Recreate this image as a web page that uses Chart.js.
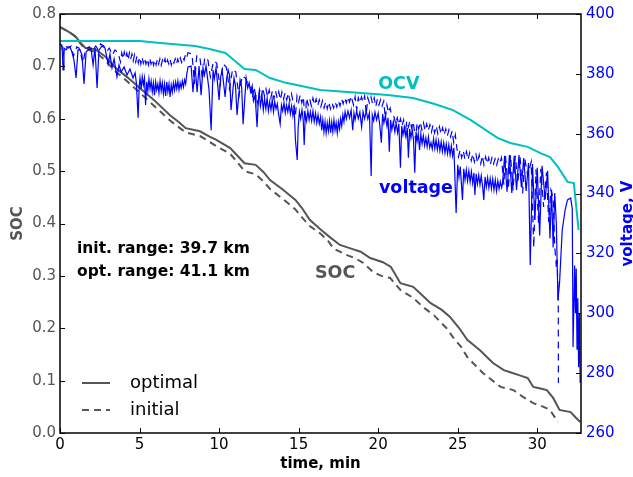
<!DOCTYPE html>
<html><head><meta charset="utf-8">
<script src="https://cdn.jsdelivr.net/npm/chart.js@4/dist/chart.umd.min.js"></script>
<style>html,body{margin:0;padding:0;background:#fff;}canvas{display:block;}</style>
</head><body>
<canvas id="c" width="633" height="477"></canvas>
<script>
// ---------- tick values ----------
const xTicks = [0, 5, 10, 15, 20, 25, 30];
const socTicks = [0, 0.1, 0.2, 0.3, 0.4, 0.5, 0.6, 0.7, 0.8];
const voltTicks = [260, 280, 300, 320, 340, 360, 380, 400];

// ---------- SOC (left axis) ----------
const socOptTime = [0, 0.3, 0.6, 0.95, 1.3, 1.6, 2.2, 2.8, 3.5, 4.2, 5.0, 5.9, 6.9, 7.5, 7.9, 8.8, 9.4, 9.8, 10.7, 11.2, 11.6, 12.3, 12.8, 13.2, 14.0, 14.8, 15.2, 15.7, 16.4, 17.0, 17.6, 18.3, 18.9, 19.5, 20.3, 20.8, 21.4, 22.2, 22.7, 23.3, 24.0, 24.5, 25.1, 25.6, 26.4, 27.2, 27.9, 28.3, 28.9, 29.4, 29.75, 30.2, 30.6, 31.0, 31.4, 32.1, 32.4, 32.7];
const socOpt = [0.775, 0.77, 0.765, 0.758, 0.745, 0.735, 0.733, 0.72, 0.697, 0.68, 0.659, 0.636, 0.607, 0.593, 0.582, 0.576, 0.566, 0.56, 0.544, 0.528, 0.515, 0.512, 0.498, 0.483, 0.465, 0.445, 0.43, 0.407, 0.388, 0.373, 0.359, 0.352, 0.346, 0.334, 0.326, 0.317, 0.286, 0.279, 0.265, 0.248, 0.235, 0.222, 0.2, 0.178, 0.158, 0.134, 0.12, 0.116, 0.11, 0.105, 0.088, 0.085, 0.082, 0.067, 0.044, 0.04, 0.03, 0.021];

const socInitTime = [0, 0.3, 0.6, 0.95, 1.3, 1.6, 2.2, 2.8, 3.5, 4.2, 5.0, 5.9, 6.9, 7.5, 7.9, 8.8, 9.4, 9.8, 10.7, 11.2, 11.6, 12.3, 12.8, 13.2, 14.0, 14.8, 15.2, 15.7, 16.4, 16.9, 17.2, 18.0, 18.6, 19.05, 19.7, 20.2, 20.75, 21.4, 22.2, 22.8, 23.5, 24.3, 24.7, 25.2, 25.6, 26.6, 27.7, 28.5, 29.1, 29.75, 30.4, 30.8, 31.3];
const socInit = [0.775, 0.77, 0.765, 0.757, 0.743, 0.733, 0.728, 0.713, 0.69, 0.672, 0.65, 0.625, 0.597, 0.583, 0.574, 0.567, 0.556, 0.548, 0.533, 0.515, 0.5, 0.494, 0.48, 0.466, 0.447, 0.427, 0.412, 0.395, 0.38, 0.365, 0.352, 0.34, 0.333, 0.325, 0.307, 0.3, 0.296, 0.273, 0.258, 0.241, 0.225, 0.2, 0.183, 0.165, 0.145, 0.114, 0.088, 0.082, 0.069, 0.057, 0.05, 0.044, 0.021];

// ---------- OCV (right axis) ----------
const ocvTime = [0, 5.0, 6.3, 8.5, 9.4, 10.4, 11.0, 11.6, 12.3, 13.2, 14.2, 15.1, 16.35, 18.5, 20.6, 22.2, 23.5, 24.7, 25.8, 27.5, 28.3, 29.4, 30.2, 30.8, 31.3, 31.9, 32.3, 32.6];
const ocv = [391.0, 391.0, 390.3, 389.3, 388.3, 387.0, 384.3, 381.6, 381.3, 378.6, 377.0, 376.0, 374.6, 373.8, 372.9, 371.9, 370.0, 367.9, 364.6, 358.6, 356.9, 355.6, 353.5, 352.2, 348.9, 343.9, 343.5, 327.8];

// ---------- terminal voltage, optimal (solid): [time min, volts] ----------
const voltOptPoints = [
[0.00,390.0],[0.13,389.3],[0.19,381.3],[0.25,388.6],[0.38,388.0],[0.50,389.0],[0.63,389.0],[0.75,387.3],[0.88,384.6],[1.01,378.6],[1.13,388.0],[1.26,388.0],[1.38,386.3],[1.51,376.6],[1.64,387.3],[1.76,388.0],[1.95,388.6],[2.08,383.0],[2.20,388.6],[2.33,375.3],[2.45,388.0],[2.64,389.3],[2.83,388.6],[3.02,383.3],[3.14,386.6],[3.27,382.0],[3.40,385.0],[3.58,379.0],[3.71,383.0],[3.84,380.6],[4.03,382.3],[4.21,379.6],[4.40,381.6],[4.59,378.6],[4.72,380.3],
[4.80,377.0],[4.91,365.3],[4.98,376.0],[5.03,378.6],[5.10,375.0],[5.17,379.0],[5.24,376.3],[5.31,378.6],[5.38,369.6],[5.45,377.3],[5.52,374.3],[5.59,378.3],[5.66,375.0],[5.73,377.6],[5.80,374.0],[5.87,377.0],[5.94,372.9],[6.01,377.3],[6.08,374.6],[6.15,376.6],[6.22,373.6],[6.29,377.6],[6.36,374.3],[6.43,377.0],[6.50,373.3],[6.57,376.6],[6.64,372.6],[6.71,377.3],[6.78,374.0],[6.85,376.6],[6.92,372.3],[6.99,376.3],[7.06,373.9],[7.13,377.0],[7.20,374.6],[7.27,377.3],[7.34,375.0],[7.41,377.6],[7.48,374.6],[7.55,377.0],[7.62,375.3],[7.69,377.6],[7.76,375.6],[7.83,378.0],[7.90,376.6],[7.97,380.0],[8.05,382.3],
[8.24,382.6],[8.36,373.9],[8.49,382.6],[8.62,373.9],[8.74,382.6],[8.87,372.9],[8.99,382.0],[9.08,379.6],[9.18,382.6],[9.37,374.6],[9.50,361.2],[9.62,381.3],[9.70,378.3],[9.81,382.0],[10.00,371.3],[10.10,379.0],[10.19,381.3],[10.38,372.3],[10.48,378.6],[10.57,381.3],[10.66,379.6],[10.75,367.9],[10.94,378.6],[11.03,376.0],[11.13,366.3],[11.32,378.0],[11.42,375.6],[11.51,363.2],[11.70,378.6],[11.80,375.3],[11.89,377.0],[11.98,374.0],
[12.08,376.0],[12.16,371.0],[12.26,372.9],[12.32,368.0],[12.39,362.2],[12.46,371.0],[12.52,373.9],[12.60,369.3],[12.70,372.6],[12.78,367.9],[12.86,371.6],[12.94,368.3],[13.02,371.9],[13.10,367.6],[13.18,370.6],[13.26,368.0],[13.34,371.3],[13.42,367.3],[13.50,370.6],[13.58,368.3],[13.66,370.0],[13.74,366.6],[13.84,363.3],[13.92,369.6],[14.00,367.6],[14.08,370.3],[14.16,366.9],[14.24,369.6],[14.32,367.3],[14.40,370.0],[14.48,366.6],[14.56,369.3],[14.64,366.0],[14.72,368.6],[14.80,357.9],[14.91,351.2],[14.97,362.0],[15.05,367.3],[15.13,365.0],[15.21,368.0],[15.29,364.6],[15.35,356.2],[15.42,366.6],[15.50,364.3],[15.58,367.6],[15.66,364.6],[15.74,367.3],[15.82,364.3],[15.90,367.6],[15.98,364.0],[16.06,366.9],[16.14,363.6],[16.22,366.3],[16.30,363.3],
[16.38,365.6],[16.45,361.2],[16.52,364.6],[16.59,360.6],[16.66,364.0],[16.73,360.2],[16.80,363.6],[16.87,360.9],[16.94,364.3],[17.01,360.3],[17.08,363.9],[17.15,360.6],[17.22,364.6],[17.29,361.2],[17.36,363.6],[17.43,360.2],[17.50,364.0],[17.57,361.6],[17.64,365.0],[17.71,362.6],[17.78,366.3],[17.85,364.0],[17.92,367.3],
[18.00,365.0],[18.10,367.6],[18.20,365.3],[18.30,367.9],[18.40,361.2],[18.48,366.9],[18.55,364.6],[18.65,367.6],[18.75,365.0],[18.85,367.2],[18.96,362.2],[19.05,367.3],[19.15,365.0],[19.25,367.6],[19.35,364.9],[19.45,367.0],[19.56,345.9],[19.63,366.3],[19.72,364.3],[19.80,367.2],[19.90,364.6],[20.00,366.9],[20.10,363.0],[20.20,357.0],[20.28,366.6],[20.36,363.6],[20.45,366.0],[20.55,362.6],[20.62,365.3],[20.70,354.0],[20.78,364.6],[20.86,361.3],[20.95,364.0],[21.05,360.6],[21.13,363.6],[21.22,360.3],[21.30,363.3],[21.40,348.6],[21.48,362.6],[21.56,359.6],[21.65,362.3],[21.75,359.0],[21.83,361.9],[21.90,352.0],[21.98,361.6],[22.06,358.6],[22.14,361.3],[22.22,358.0],[22.30,347.0],[22.38,360.6],[22.45,357.6],[22.52,360.0],[22.60,354.6],
[22.68,359.9],[22.76,356.6],[22.84,359.3],[22.92,356.0],[23.00,358.6],[23.08,355.6],[23.16,358.9],[23.24,355.3],[23.32,357.0],[23.40,354.9],[23.48,358.3],[23.56,355.0],[23.64,357.9],[23.72,354.6],[23.80,357.6],[23.88,354.3],[23.96,357.3],[24.04,354.0],[24.12,357.0],[24.20,353.6],[24.28,356.6],[24.36,353.3],[24.44,356.3],[24.52,352.9],[24.60,356.0],[24.68,352.6],[24.76,355.3],[24.90,333.5],
[25.00,349.6],[25.08,345.5],[25.16,349.0],[25.30,337.9],[25.38,348.3],[25.46,344.5],[25.54,348.0],[25.62,344.2],[25.70,347.6],[25.78,343.9],[25.86,347.3],[25.94,343.5],[26.02,346.9],[26.08,339.5],[26.16,346.6],[26.24,343.2],[26.32,346.2],[26.40,342.9],[26.48,346.0],[26.56,342.6],[26.64,337.9],[26.72,345.6],[26.80,342.2],[26.88,345.3],[26.96,341.9],[27.04,345.0],[27.12,341.6],[27.20,344.9],[27.28,341.2],[27.36,344.6],[27.44,340.9],[27.52,344.3],[27.60,341.6],[27.68,344.0],[27.76,342.0],[27.82,343.5],
[27.95,352.6],[28.10,340.6],[28.25,352.9],[28.40,340.2],[28.55,352.6],[28.70,341.2],[28.85,352.9],[29.00,342.2],[29.15,351.9],[29.30,340.9],[29.45,350.2],[29.56,316.1],[29.70,349.9],[29.85,331.2],[30.00,348.6],[30.15,326.0],[30.30,349.3],[30.50,338.0],[30.65,347.6],[30.80,325.0],[30.90,341.2],[31.00,322.0],[31.10,340.2],[31.20,330.0],[31.30,304.4],[31.40,310.0],[31.57,327.8],[31.75,334.5],[31.90,337.9],[32.10,338.5],[32.20,335.0],[32.25,288.7],[32.35,316.0],[32.40,300.0],[32.45,315.0],[32.50,288.0],[32.55,305.0],[32.60,282.0],[32.65,300.0],[32.70,276.7]
];

// ---------- terminal voltage, initial (dashed): [time min, volts] ----------
const voltInitPoints = [
[0.00,390.0],[0.10,389.6],[0.20,386.0],[0.30,389.3],[0.55,388.6],[0.70,389.3],[0.85,386.0],[1.05,389.0],[1.20,388.6],[1.45,383.6],[1.60,388.3],[1.85,389.0],[2.00,387.6],[2.25,389.3],[2.40,388.0],[2.55,390.0],[2.75,389.3],[2.95,387.6],[3.10,388.6],[3.30,386.3],[3.45,388.0],[3.65,387.0],
[3.80,384.0],[3.88,387.0],[3.96,385.0],[4.04,387.3],[4.12,385.3],[4.20,386.9],[4.28,384.6],[4.36,387.0],[4.44,384.9],[4.52,386.6],[4.60,384.3],[4.68,386.3],[4.76,384.0],[4.84,386.0],[4.92,383.6],[5.00,385.6],[5.08,383.3],[5.16,385.6],[5.24,383.6],[5.32,385.3],[5.40,383.3],[5.48,385.0],[5.56,383.0],[5.64,385.3],[5.72,383.3],[5.80,384.9],[5.88,382.9],[5.96,384.6],[6.04,383.0],[6.12,384.9],[6.20,383.3],[6.28,385.0],[6.36,382.9],[6.44,384.6],[6.52,383.3],[6.60,385.0],[6.68,383.0],[6.76,384.6],[6.84,383.3],[6.92,384.9],[7.00,383.0],[7.08,384.6],[7.16,383.6],[7.24,385.0],[7.32,383.3],[7.40,384.9],[7.48,383.6],[7.56,385.3],[7.64,383.9],[7.72,385.6],[7.80,384.6],[7.88,386.3],[7.96,385.3],[8.04,387.0],
[8.10,387.0],[8.30,386.6],[8.45,376.6],[8.60,386.3],[8.80,385.3],[8.95,378.0],[9.10,385.6],[9.30,384.6],[9.45,379.0],[9.65,384.3],[9.85,383.6],[10.05,376.0],[10.25,383.3],[10.45,382.3],[10.65,375.0],[10.85,381.6],[11.05,380.6],[11.25,372.6],[11.45,379.3],[11.65,378.6],[11.85,376.3],
[12.00,375.3],[12.10,372.0],[12.20,375.6],[12.30,372.6],[12.45,370.0],[12.55,374.6],[12.65,372.3],[12.75,375.3],[12.85,372.6],[12.95,374.9],[13.05,372.3],[13.15,374.6],[13.25,371.9],[13.35,374.3],[13.45,371.6],[13.55,374.3],[13.65,371.9],[13.75,374.0],[13.85,371.3],[13.95,373.9],[14.05,371.6],[14.15,373.6],[14.25,371.3],[14.35,373.6],[14.45,371.0],[14.55,373.3],[14.65,370.6],[14.80,366.0],[14.90,372.6],[15.00,370.6],[15.10,372.9],[15.20,370.3],[15.30,372.3],[15.40,364.0],[15.50,371.9],[15.60,369.6],[15.70,371.6],[15.80,369.3],[15.90,371.9],[16.00,369.6],[16.10,371.6],[16.20,369.3],[16.30,371.3],
[16.40,369.0],[16.50,371.0],[16.60,368.6],[16.70,370.6],[16.80,368.3],[16.90,370.6],[17.00,368.3],[17.10,370.3],[17.20,368.6],[17.30,370.6],[17.40,368.9],[17.50,371.0],[17.60,369.3],[17.70,371.6],[17.80,370.0],[17.90,372.0],[18.00,370.3],[18.10,372.3],[18.20,370.6],[18.30,372.6],[18.45,369.6],[18.55,372.3],[18.65,368.0],[18.75,372.0],[18.85,370.3],[18.95,372.3],[19.05,370.6],[19.15,372.6],[19.25,366.6],[19.35,372.0],[19.45,370.3],[19.55,372.3],[19.65,370.0],[19.75,372.0],[19.85,369.0],[19.95,371.6],[20.05,369.6],[20.15,371.3],[20.25,369.3],[20.35,370.9],[20.45,365.0],[20.55,369.6],[20.65,367.0],[20.75,368.6],[20.85,366.0],
[21.00,365.6],[21.10,363.3],[21.20,365.3],[21.30,363.0],[21.40,365.0],[21.50,362.6],[21.60,364.6],[21.70,360.0],[21.80,364.3],[21.90,362.3],[22.00,364.3],[22.10,362.0],[22.20,364.0],[22.35,358.0],[22.45,363.6],[22.55,361.6],[22.65,363.9],[22.75,361.3],[22.85,363.6],[22.95,361.0],[23.05,363.3],[23.15,361.0],[23.25,363.0],[23.35,360.6],[23.45,362.9],[23.55,360.3],[23.65,362.6],[23.75,360.0],[23.85,362.3],[23.95,359.9],[24.05,362.0],[24.15,359.6],[24.25,361.6],[24.35,359.3],[24.45,361.3],[24.55,359.0],[24.65,360.9],[24.75,357.0],[24.85,359.6],
[24.95,355.0],[25.05,352.3],[25.15,354.6],[25.25,352.0],[25.35,354.3],[25.45,351.6],[25.55,354.0],[25.65,351.3],[25.75,353.6],[25.85,351.0],[25.95,353.3],[26.05,350.6],[26.15,353.0],[26.25,350.3],[26.35,352.9],[26.45,350.0],[26.55,352.6],[26.65,349.6],[26.75,352.3],[26.85,350.0],[26.95,352.0],[27.05,349.6],[27.15,351.9],[27.25,349.9],[27.35,351.6],[27.45,349.6],[27.55,351.6],[27.65,350.3],[27.75,352.0],[27.90,343.0],
[28.00,352.6],[28.18,341.5],[28.32,352.9],[28.48,341.0],[28.62,352.6],[28.78,343.5],[28.92,352.3],[29.08,340.0],[29.22,351.6],[29.40,346.0],[29.62,350.6],[29.78,322.0],[29.92,348.0],[30.08,330.0],[30.22,348.3],[30.40,335.5],[30.58,347.0],[30.72,330.5],[30.86,341.2],[31.00,338.6],[31.10,322.2],[31.20,315.5],[31.25,318.0],[31.32,305.0],[31.33,276.7]
];

// ---------- text ----------
const xTitle = 'time, min';
const socTitle = 'SOC';
const voltTitle = 'voltage, V';
const legendLabels = ['optimal', 'initial'];
const rangeTexts = ['init. range: 39.7 km', 'opt. range: 41.1 km'];

const FONT = 'DejaVu Sans';
const GRAY = '#555555';
const BLUE = '#0000ff';
const CYAN = '#00bfbf';
Chart.defaults.font.family = FONT;

function pts(t, v) { return t.map((x, i) => ({ x: x, y: v[i] })); }
function pairs(p) { return p.map(d => ({ x: d[0], y: d[1] })); }

const framePlugin = {
  id: 'frame',
  afterDraw(chart) {
    const ctx = chart.ctx;
    const a = chart.chartArea;
    const sx = chart.scales.x, sy = chart.scales.y, sv = chart.scales.y1;
    ctx.save();
    ctx.strokeStyle = '#000';
    ctx.lineWidth = 1;
    ctx.beginPath();
    xTicks.forEach(v => {
      const p = Math.round(sx.getPixelForValue(v)) + 0.5;
      ctx.moveTo(p, a.bottom); ctx.lineTo(p, a.bottom - 5);
      ctx.moveTo(p, a.top); ctx.lineTo(p, a.top + 5);
    });
    socTicks.forEach(v => {
      const p = Math.round(sy.getPixelForValue(v)) + 0.5;
      ctx.moveTo(a.left, p); ctx.lineTo(a.left + 5, p);
    });
    voltTicks.forEach(v => {
      const p = Math.round(sv.getPixelForValue(v)) + 0.5;
      ctx.moveTo(a.right, p); ctx.lineTo(a.right - 5, p);
    });
    ctx.stroke();
    ctx.lineWidth = 1.5;
    ctx.strokeRect(a.left, a.top, a.right - a.left, a.bottom - a.top);

    ctx.textBaseline = 'alphabetic';
    ctx.textAlign = 'left';
    ctx.font = 'bold 17.5px "' + FONT + '"';
    ctx.fillStyle = CYAN;
    ctx.fillText('OCV', sx.getPixelForValue(20.0), sv.getPixelForValue(374.9));
    ctx.fillStyle = BLUE;
    ctx.fillText('voltage', sx.getPixelForValue(20.05), sv.getPixelForValue(340.2));
    ctx.fillStyle = GRAY;
    ctx.fillText('SOC', sx.getPixelForValue(16.03), sy.getPixelForValue(0.296));
    ctx.fillStyle = '#000';
    ctx.font = 'bold 15.5px "' + FONT + '"';
    ctx.fillText(rangeTexts[0], sx.getPixelForValue(1.07), sy.getPixelForValue(0.3437));
    ctx.fillText(rangeTexts[1], sx.getPixelForValue(1.07), sy.getPixelForValue(0.2998));

    const ly = [a.top + 369, a.top + 396];
    ctx.strokeStyle = GRAY;
    ctx.lineWidth = 2;
    ctx.beginPath(); ctx.moveTo(a.left + 22, ly[0]); ctx.lineTo(a.left + 50, ly[0]); ctx.stroke();
    ctx.setLineDash([7, 5]);
    ctx.beginPath(); ctx.moveTo(a.left + 22, ly[1]); ctx.lineTo(a.left + 50, ly[1]); ctx.stroke();
    ctx.setLineDash([]);
    ctx.fillStyle = '#000';
    ctx.font = '18px "' + FONT + '"';
    ctx.textBaseline = 'middle';
    ctx.fillText(legendLabels[0], a.left + 70, ly[0]);
    ctx.fillText(legendLabels[1], a.left + 70, ly[1]);

    ctx.translate(632, (a.top + a.bottom) / 2);
    ctx.rotate(-Math.PI / 2);
    ctx.textAlign = 'center';
    ctx.textBaseline = 'alphabetic';
    ctx.fillStyle = BLUE;
    ctx.font = 'bold 15px "' + FONT + '"';
    ctx.fillText(voltTitle, 0, 0);
    ctx.restore();
  }
};

new Chart(document.getElementById('c').getContext('2d'), {
  type: 'line',
  data: {
    datasets: [
      { label: 'OCV', data: pts(ocvTime, ocv), yAxisID: 'y1', borderColor: CYAN, borderWidth: 2, order: 0 },
      { label: 'voltage optimal', data: pairs(voltOptPoints), yAxisID: 'y1', borderColor: BLUE, borderWidth: 1.2, order: 1 },
      { label: 'voltage initial', data: pairs(voltInitPoints), yAxisID: 'y1', borderColor: BLUE, borderWidth: 1.2, borderDash: [7, 5], order: 1 },
      { label: 'SOC optimal', data: pts(socOptTime, socOpt), yAxisID: 'y', borderColor: GRAY, borderWidth: 2, order: 2 },
      { label: 'SOC initial', data: pts(socInitTime, socInit), yAxisID: 'y', borderColor: GRAY, borderWidth: 2, borderDash: [7, 5], order: 2 }
    ]
  },
  options: {
    responsive: false,
    animation: false,
    devicePixelRatio: 1,
    elements: { point: { radius: 0 }, line: { tension: 0, fill: false, borderCapStyle: 'butt' } },
    layout: { padding: { top: 14, left: 0, right: 0, bottom: 0 } },
    plugins: { legend: { display: false }, tooltip: { enabled: false } },
    scales: {
      x: {
        type: 'linear', position: 'bottom', min: 0, max: 32.75,
        grid: { display: false, drawTicks: false }, border: { display: false },
        afterBuildTicks: s => { s.ticks = xTicks.map(v => ({ value: v })); },
        afterFit: s => { s.height = 44; },
        ticks: { color: '#000', font: { size: 15 }, padding: 3, maxRotation: 0, autoSkip: false, callback: v => String(v) },
        title: { display: true, text: xTitle, color: '#000', font: { size: 15, weight: 'bold' }, padding: { top: 0, bottom: 4 } }
      },
      y: {
        type: 'linear', position: 'left', min: 0, max: 0.8,
        grid: { display: false, drawTicks: false }, border: { display: false },
        afterBuildTicks: s => { s.ticks = socTicks.map(v => ({ value: v })); },
        afterFit: s => { s.width = 60; },
        ticks: { color: GRAY, font: { size: 15 }, padding: 4, autoSkip: false, callback: v => Number(v).toFixed(1) },
        title: { display: true, text: socTitle, color: GRAY, font: { size: 15, weight: 'bold' }, padding: { top: 9, bottom: 0 } }
      },
      y1: {
        type: 'linear', position: 'right', min: 260, max: 400,
        grid: { display: false, drawTicks: false }, border: { display: false },
        afterBuildTicks: s => { s.ticks = voltTicks.map(v => ({ value: v })); },
        afterFit: s => { s.width = 52; },
        ticks: { color: BLUE, font: { size: 15 }, padding: 5, autoSkip: false, callback: v => String(v) }
      }
    }
  },
  plugins: [framePlugin]
});
</script>
</body></html>
